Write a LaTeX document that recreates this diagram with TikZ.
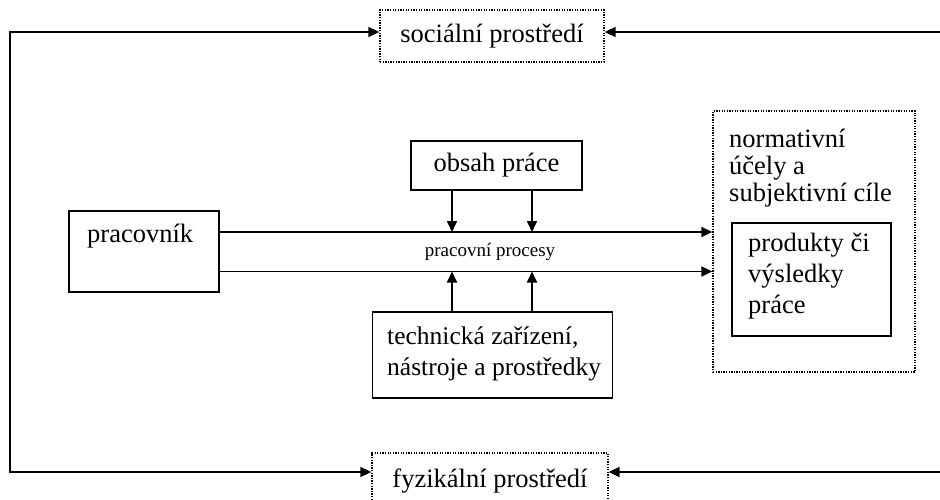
\documentclass[tikz,border=0pt]{standalone}
\usepackage{fontspec}
\setmainfont{Liberation Serif}
\usetikzlibrary{arrows.meta}
\begin{document}
\begin{tikzpicture}[x=1pt,y=-1pt,
  box/.style={draw, line width=1.6pt, inner sep=0pt},
  dotbox/.style={draw, line width=1.3pt, dash pattern=on 1.3pt off 1.3pt, inner sep=0pt},
  lbl/.style={inner sep=0pt, font=\fontsize{26.5}{28}\selectfont},
  small/.style={inner sep=0pt, font=\fontsize{19}{21}\selectfont},
  tip/.tip={Triangle[length=11pt,width=10pt]},
  link/.style={line width=1.7pt, line join=miter},
  conn/.style={link, -tip},
]
\useasboundingbox (0,0) rectangle (940,499);

% environment boxes
\node[dotbox, lbl, minimum width=224pt, minimum height=52pt] (soc) at (492,36) {sociální prostředí};
\node[dotbox, lbl, minimum width=236pt, minimum height=57pt] (fyz) at (490,481.5) {fyzikální prostředí};

% worker
\node[box, minimum width=150pt, minimum height=81pt] (prac) at (144,251.5) {};
\node[lbl, anchor=west] (pracT) at (87,236) {pracovník};

% content of work
\node[box, lbl, minimum width=171pt, minimum height=49pt] (obsah) at (496.5,165.5) {obsah práce};

% tools and equipment
\node[box, minimum width=240pt, minimum height=86pt] (tech) at (492.5,355) {};
\node[lbl, anchor=north west, align=left, font=\fontsize{25.5}{31}\selectfont] (techT) at (387,327)
  {technická zařízení,\\nástroje a prostředky};

% goals and products
\node[dotbox, minimum width=202pt, minimum height=261pt] (norm) at (814,241.5) {};
\node[lbl, anchor=north west, align=left, font=\fontsize{26.5}{27}\selectfont] (normT) at (729,129)
  {normativní\\účely a\\subjektivní cíle};
\node[box, minimum width=159pt, minimum height=113pt] (prod) at (811.5,279.5) {};
\node[lbl, anchor=north west, align=left, font=\fontsize{26.5}{31}\selectfont] (prodT) at (748,233)
  {produkty či\\výsledky\\práce};

% process label
\node[small] (proc) at (490,252) {pracovní procesy};

% reference points on the process lines and the outer loop
\coordinate (up) at (0,232);
\coordinate (lo) at (0,271.5);
\coordinate (d1) at (452,232);
\coordinate (d2) at (532,232);
\coordinate (e1) at (452,271.5);
\coordinate (e2) at (532,271.5);
\coordinate (lt) at (10,32);
\coordinate (lb) at (10,472);
\coordinate (rt) at (942,32);
\coordinate (rb) at (942,472);

% work process lines
\draw[conn] (prac.east |- up) -- (norm.west |- up);
\draw[conn] (prac.east |- lo) -- (norm.west |- lo);

% influences on the process
\draw[conn] (obsah.south -| d1) -- (d1);
\draw[conn] (obsah.south -| d2) -- (d2);
\draw[conn] (tech.north -| e1) -- (e1);
\draw[conn] (tech.north -| e2) -- (e2);

% outer loop
\draw[link, tip-tip] (soc.west |- lt) -- (lt) -- (lb) -- (fyz.west |- lb);
\draw[conn] (rt) -- (soc.east |- rt);
\draw[conn] (rb) -- (fyz.east |- rb);
\end{tikzpicture}
\end{document}
